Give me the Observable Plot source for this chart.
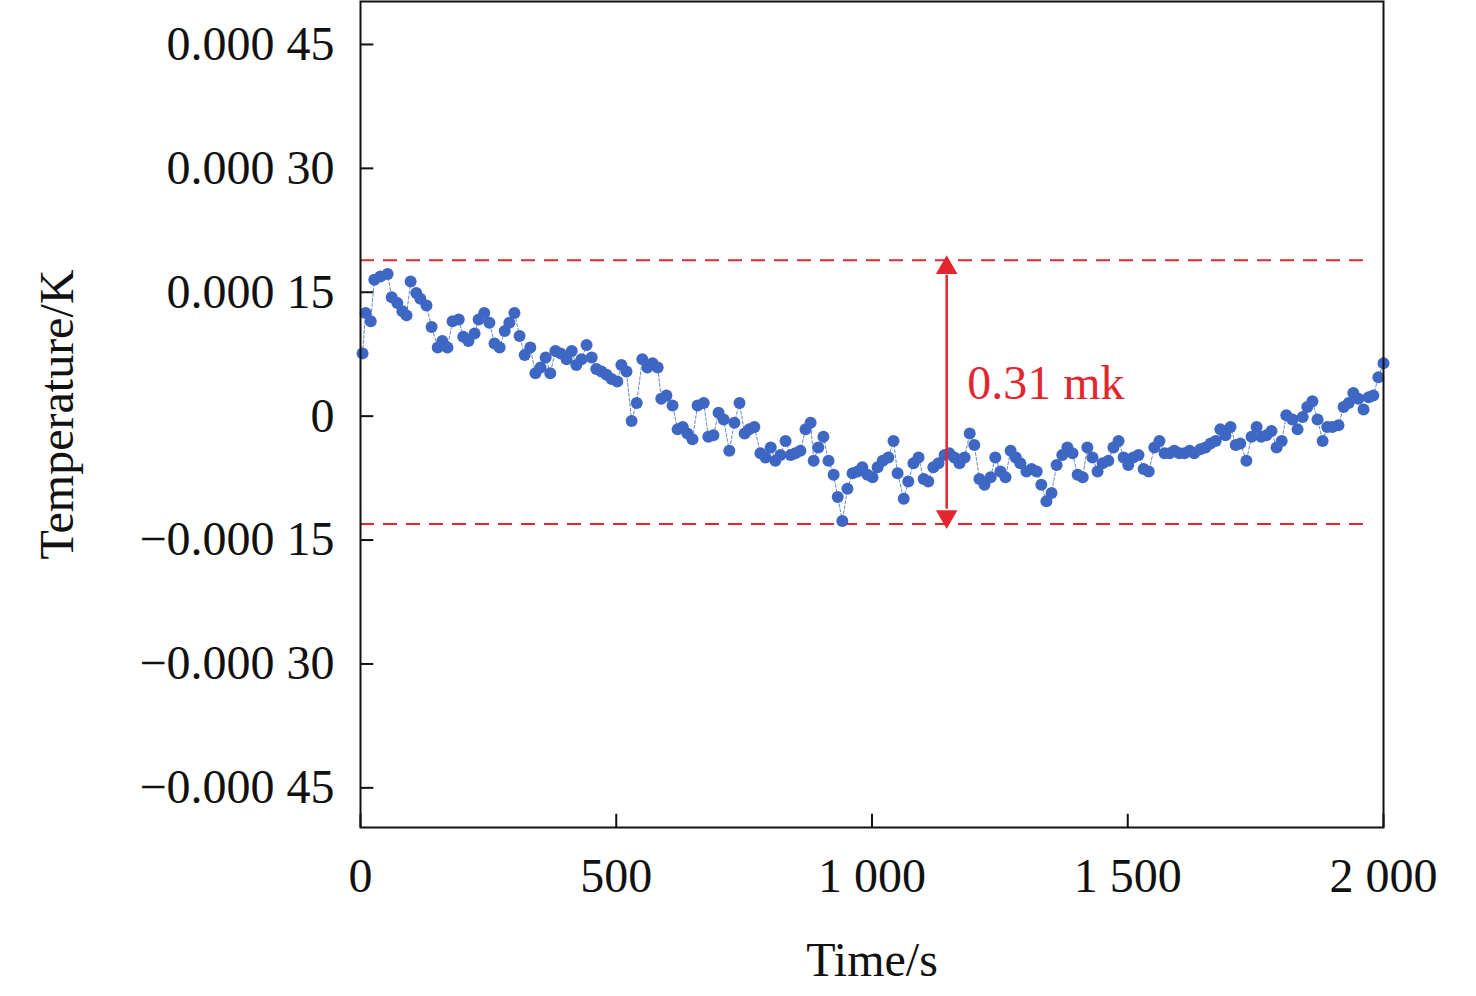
<!DOCTYPE html>
<html><head><meta charset="utf-8">
<script src="https://cdn.jsdelivr.net/npm/d3@7"></script>
<script src="https://cdn.jsdelivr.net/npm/@observablehq/plot@0.6"></script>
<style>body{margin:0;background:#fff}</style>
</head><body><div id="chart"></div>
<script>
const times = [4,10,20,27,39,53,61,72,82,90,98,109,117,129,139,151,160,170,180,192,201,211,223,231,242,252,262,272,282,291,301,311,321,332,342,352,362,371,381,391,403,413,422,432,442,452,461,471,481,491,502,510,520,530,540,551,561,571,581,588,598,610,620,630,639,649,659,671,680,690,700,710,721,731,741,751,760,770,782,792,802,811,821,831,841,850,860,870,880,886,895,905,915,925,933,942,952,962,972,981,991,1001,1011,1021,1032,1042,1050,1062,1071,1081,1091,1101,1110,1120,1130,1142,1151,1161,1171,1181,1191,1200,1210,1220,1232,1241,1251,1261,1271,1281,1290,1302,1312,1322,1331,1341,1351,1361,1372,1382,1392,1402,1412,1421,1431,1441,1451,1462,1472,1482,1492,1501,1511,1521,1531,1541,1552,1562,1572,1582,1591,1601,1611,1621,1630,1642,1652,1662,1672,1681,1691,1701,1711,1720,1732,1742,1752,1761,1771,1781,1791,1801,1810,1822,1832,1842,1851,1861,1871,1881,1890,1900,1912,1922,1932,1941,1951,1961,1971,1980,1990,2000];
const tempsMicroK = [76,125,115,165,169,172,144,137,127,122,163,149,142,134,108,83,91,83,115,117,96,91,100,117,125,113,88,83,103,113,125,97,74,83,52,59,71,52,79,76,69,79,62,69,86,71,57,54,50,45,42,62,54,-6,16,69,59,64,59,21,25,13,-16,-13,-21,-28,13,16,-25,-23,4,-4,-42,-8,16,-21,-16,-13,-45,-50,-38,-54,-47,-30,-47,-45,-42,-16,-8,-54,-38,-25,-54,-71,-98,-127,-88,-69,-67,-62,-71,-74,-62,-54,-50,-30,-69,-100,-79,-57,-50,-76,-79,-62,-57,-47,-45,-50,-57,-50,-21,-35,-76,-83,-74,-50,-67,-74,-42,-50,-57,-67,-64,-67,-83,-103,-93,-59,-47,-38,-45,-71,-74,-38,-50,-67,-57,-54,-38,-30,-50,-59,-50,-47,-64,-67,-38,-30,-45,-45,-42,-45,-45,-42,-45,-40,-38,-33,-30,-16,-23,-13,-35,-33,-54,-25,-13,-25,-23,-18,-38,-30,1,-4,-16,-1,11,18,-4,-30,-13,-13,-11,11,16,28,21,8,23,25,47,64];
const yTicks = [0.00045,0.0003,0.00015,0,-0.00015,-0.0003,-0.00045];
const xTicks = [0,500,1000,1500,2000];
const upperLimit = 0.0001887, lowerLimit = -0.0001306;
const arrowTime = 1146;
const labelText = "0.31 mk";

const data = times.map((t,i)=>({t, v: tempsMicroK[i]*1e-6}));
const yDom = [-0.000498, 0.000502];
const fmtY = v => v===0 ? "0" : (v<0?"\u2212":"") + Math.abs(v).toFixed(5).replace(/^(\d\.\d{3})(\d+)$/,"$1 $2");
const fmtX = v => v>=1000 ? d3.format("d")(v).replace(/(\d)(\d{3})$/,"$1 $2") : String(v);
const red = "#e3262d", blue = "#3d67c3";
const headPx = 9e-6;

const chart = Plot.plot({
  width: 1476, height: 996,
  marginLeft: 360, marginRight: 93, marginTop: 1, marginBottom: 169,
  style: {fontFamily: "'Liberation Serif', 'Times New Roman', serif", fontSize: "48px", color: "#111", background: "#fff"},
  x: {domain: [0,2000]},
  y: {domain: yDom},
  marks: [
    Plot.axisY(yTicks, {tickSize: 0, tickPadding: 26, tickFormat: fmtY, fontSize: 48, label: "Temperature/K", labelAnchor: "center", labelArrow: "none", labelOffset: 322}),
    Plot.axisX(xTicks, {tickSize: 0, tickPadding: 30, tickFormat: fmtX, fontSize: 48, label: "Time/s", labelAnchor: "center", labelArrow: "none", labelOffset: 148}),
    Plot.ruleY(yTicks, {x1: 0, x2: 26, stroke: "#111", strokeWidth: 2}),
    Plot.ruleX(xTicks, {y1: yDom[0], y2: yDom[0]+16e-6, stroke: "#111", strokeWidth: 2}),
    Plot.ruleY([upperLimit, lowerLimit], {x1: 0, x2: 1975, stroke: red, strokeWidth: 2, strokeDasharray: "14,9"}),
    Plot.line(data, {x: "t", y: "v", stroke: blue, strokeWidth: 0.8, strokeDasharray: "3,2"}),
    Plot.dot(data, {x: "t", y: "v", r: 6, fill: blue}),
    Plot.ruleX([arrowTime], {y1: lowerLimit + 2*headPx, y2: upperLimit - 2*headPx, stroke: red, strokeWidth: 2.5}),
    Plot.dot([{y: upperLimit - headPx, r: 0},{y: lowerLimit + headPx, r: 180}], {x: () => arrowTime, y: "y", rotate: "r", symbol: "triangle", r: 8, fill: red, stroke: "none"}),
    Plot.text([labelText], {x: 1186, y: 39e-6, text: d => d, fill: red, fontSize: 48, textAnchor: "start"}),
    Plot.frame({stroke: "#111", strokeWidth: 2})
  ]
});
document.getElementById("chart").append(chart);
</script></body></html>
